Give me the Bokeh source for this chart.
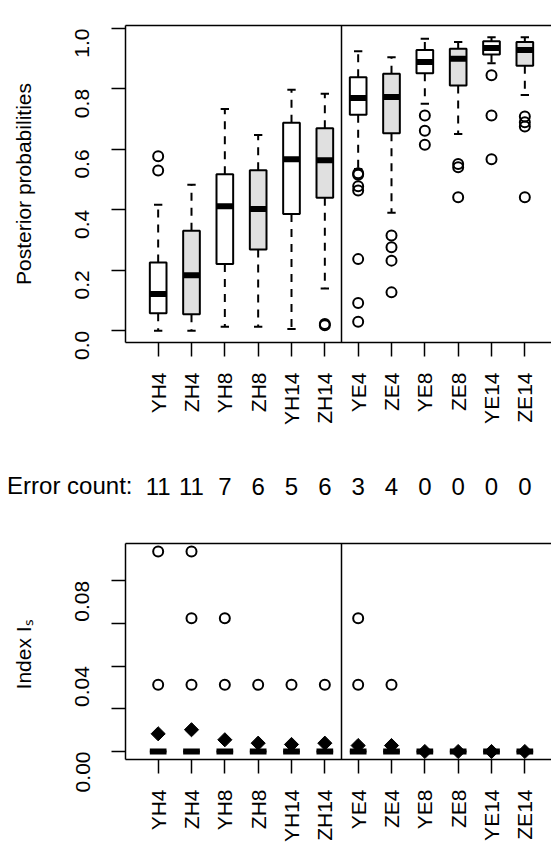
import math
from bokeh.plotting import figure
from bokeh.models import Range1d, FixedTicker, NumeralTickFormatter, Span, LinearAxis
from bokeh.layouts import column
from bokeh.embed import file_html
from bokeh.resources import INLINE
from bokeh.core.properties import value

# ---------------- data ----------------
categories = ["YH4", "ZH4", "YH8", "ZH8", "YH14", "ZH14",
              "YE4", "ZE4", "YE8", "ZE8", "YE14", "ZE14"]

# top panel: posterior probabilities (boxplot statistics)
pp_lower = [0.000, 0.000, 0.013, 0.013, 0.006, 0.140, 0.535, 0.390, 0.751, 0.651, 0.885, 0.780]
pp_q1    = [0.058, 0.055, 0.221, 0.269, 0.386, 0.440, 0.715, 0.653, 0.852, 0.811, 0.914, 0.877]
pp_med   = [0.122, 0.184, 0.412, 0.403, 0.567, 0.564, 0.770, 0.773, 0.889, 0.900, 0.935, 0.929]
pp_q3    = [0.226, 0.331, 0.518, 0.531, 0.688, 0.670, 0.839, 0.850, 0.929, 0.933, 0.958, 0.955]
pp_upper = [0.417, 0.483, 0.734, 0.648, 0.797, 0.784, 0.925, 0.905, 0.966, 0.955, 0.971, 0.971]
pp_out_cat = ["YH4", "YH4", "ZH14", "ZH14",
              "YE4", "YE4", "YE4", "YE4", "YE4", "YE4", "YE4",
              "ZE4", "ZE4", "ZE4", "ZE4",
              "YE8", "YE8", "YE8",
              "ZE8", "ZE8", "ZE8",
              "YE14", "YE14", "YE14",
              "ZE14", "ZE14", "ZE14", "ZE14"]
pp_out_val = [0.577, 0.530, 0.022, 0.018,
              0.521, 0.516, 0.478, 0.464, 0.237, 0.092, 0.030,
              0.315, 0.276, 0.232, 0.127,
              0.712, 0.662, 0.615,
              0.552, 0.541, 0.442,
              0.845, 0.712, 0.567,
              0.709, 0.690, 0.676, 0.442]
pp_ticks = [0.0, 0.2, 0.4, 0.6, 0.8, 1.0]

error_label = "Error count:"
error_count = [11, 11, 7, 6, 5, 6, 3, 4, 0, 0, 0, 0]

# bottom panel: index I_s
is_lower = [0, 0, 0, 0, 0, 0, 0, 0, 0, 0, 0, 0]
is_q1    = [0, 0, 0, 0, 0, 0, 0, 0, 0, 0, 0, 0]
is_med   = [0, 0, 0, 0, 0, 0, 0, 0, 0, 0, 0, 0]
is_q3    = [0, 0, 0, 0, 0, 0, 0, 0, 0, 0, 0, 0]
is_upper = [0, 0, 0, 0, 0, 0, 0, 0, 0, 0, 0, 0]
is_mean  = [0.0083, 0.0102, 0.0055, 0.0039, 0.0033, 0.0039, 0.0028, 0.0028, 0.0, 0.0, 0.0, 0.0]
is_out_cat = ["YH4", "YH4", "ZH4", "ZH4", "ZH4", "YH8", "YH8", "ZH8",
              "YH14", "ZH14", "YE4", "YE4", "ZE4"]
is_out_val = [0.09375, 0.03125, 0.09375, 0.0625, 0.03125, 0.0625, 0.03125, 0.03125,
              0.03125, 0.03125, 0.0625, 0.03125, 0.03125]
is_ticks = [0.00, 0.04, 0.08]
is_minor = [0.02, 0.06]

# ---------------- geometry / style ----------------
FONT = "Liberation Sans"
FS = "21px"
FS_ERR = "24px"
W = 551
LEFT = 125
UNIT = 100.0 / 3.0
X0 = 0.02
X1 = X0 + (W - LEFT) / UNIT
pos = list(range(1, len(categories) + 1))
idx = {c: i + 1 for i, c in enumerate(categories)}
fills = ["#e0e0e0" if c.startswith("Z") else "#ffffff" for c in categories]
sep = len(categories) / 2 + 0.5
BOXW = 0.5


def pad(lo, hi):
    d = (hi - lo) * 0.04
    return lo - d, hi + d


def base_fig(height, top, bottom, yr, ylabel):
    p = figure(width=W, height=height, x_range=Range1d(X0, X1), y_range=Range1d(*yr),
               output_backend="svg", toolbar_location=None,
               min_border_left=LEFT, min_border_right=0,
               min_border_top=top, min_border_bottom=bottom)
    p.outline_line_color = None
    p.xgrid.visible = False
    p.ygrid.visible = False
    p.background_fill_color = "white"
    p.border_fill_color = "white"
    for ax in list(p.xaxis) + list(p.yaxis):
        ax.axis_line_width = 1.5
        ax.axis_line_color = "black"
        ax.major_tick_line_width = 1.5
        ax.major_tick_line_color = "black"
        ax.major_tick_in = 0
        ax.major_tick_out = 14
        ax.minor_tick_line_color = None
        ax.major_label_text_font = FONT
        ax.major_label_text_font_size = FS
        ax.major_label_text_color = "black"
        ax.major_label_orientation = math.pi / 2
    p.xaxis.ticker = FixedTicker(ticks=pos)
    p.xaxis.major_label_overrides = {i: c for i, c in zip(pos, categories)}
    p.xaxis.major_label_standoff = 16
    p.yaxis.major_label_standoff = 29
    p.yaxis.axis_label = ylabel
    p.yaxis.axis_label_text_font = FONT
    p.yaxis.axis_label_text_font_size = FS
    p.yaxis.axis_label_text_font_style = "normal"
    p.yaxis.axis_label_text_color = "black"
    p.yaxis.axis_label_standoff = 31
    topax = LinearAxis(ticker=FixedTicker(ticks=[]), axis_line_width=1.5,
                       axis_line_color="black", major_tick_line_color=None,
                       minor_tick_line_color=None, major_label_text_font_size="0px")
    p.add_layout(topax, "above")
    p.add_layout(Span(location=sep, dimension="height", line_color="black", line_width=1.5))
    return p


def draw_box(p, lower, q1, med, q3, upper):
    xl = [x - BOXW / 2 for x in pos]
    xr = [x + BOXW / 2 for x in pos]
    sl = [x - BOXW / 4 for x in pos]
    sr = [x + BOXW / 4 for x in pos]
    p.segment(x0=pos, y0=q3, x1=pos, y1=upper, line_color="black", line_width=2,
              line_dash="8 7")
    p.segment(x0=pos, y0=q1, x1=pos, y1=lower, line_color="black", line_width=2,
              line_dash="8 7")
    p.segment(x0=sl, y0=upper, x1=sr, y1=upper, line_color="black", line_width=2)
    p.segment(x0=sl, y0=lower, x1=sr, y1=lower, line_color="black", line_width=2)
    p.vbar(x=pos, width=BOXW, bottom=q1, top=q3, fill_color=fills,
           line_color="black", line_width=2)
    p.segment(x0=xl, y0=med, x1=xr, y1=med, line_color="black", line_width=6,
              line_cap="butt")


# ---------------- top panel ----------------
p1 = base_fig(440, 25, 98, pad(min(pp_lower), max(pp_upper)), "Posterior probabilities")
draw_box(p1, pp_lower, pp_q1, pp_med, pp_q3, pp_upper)
p1.scatter(x=[idx[c] for c in pp_out_cat], y=pp_out_val, marker="circle", size=10,
           fill_color=None, line_color="black", line_width=2)
p1.yaxis.ticker = FixedTicker(ticks=pp_ticks)
p1.yaxis.formatter = NumeralTickFormatter(format="0.0")

# ---------------- middle: error counts ----------------
H2 = 80
BASE2 = 34          # text baseline, pixels above the bottom of this strip
LAB2 = 35           # tick carrying the "Error count:" label
p2 = figure(width=W, height=H2, x_range=Range1d(X0, X1), y_range=Range1d(0, H2),
            output_backend="svg", toolbar_location=None,
            min_border_left=LEFT, min_border_right=0, min_border_top=0, min_border_bottom=0,
            x_axis_location=None, y_axis_location="left")
p2.outline_line_color = None
p2.xgrid.visible = False
p2.ygrid.visible = False
p2.text(x=pos, y=[BASE2] * len(pos), text=[str(v) for v in error_count],
        text_font=value(FONT), text_font_size=FS_ERR, text_align="center",
        text_baseline="alphabetic", text_color="black")
ya = p2.yaxis[0]
ya.ticker = FixedTicker(ticks=[LAB2])
ya.major_label_overrides = {LAB2: error_label}
ya.axis_line_color = None
ya.major_tick_line_color = None
ya.minor_tick_line_color = None
ya.major_tick_in = 0
ya.major_tick_out = 0
ya.major_label_standoff = -7
ya.major_label_orientation = "horizontal"
ya.major_label_text_font = FONT
ya.major_label_text_font_size = FS_ERR
ya.major_label_text_color = "black"

# ---------------- bottom panel ----------------
H3 = 846 - 440 - H2
p3 = base_fig(H3, 23, 87, pad(0.0, max(is_out_val)), "Index  I\u209b")
draw_box(p3, is_lower, is_q1, is_med, is_q3, is_upper)
p3.scatter(x=[idx[c] for c in is_out_cat], y=is_out_val, marker="circle", size=10,
           fill_color=None, line_color="black", line_width=2)
p3.scatter(x=pos, y=is_mean, marker="square", angle=math.pi / 4, size=10,
           fill_color="black", line_color="black", line_width=1)
p3.yaxis.ticker = FixedTicker(ticks=is_ticks, minor_ticks=is_minor)
p3.yaxis.formatter = NumeralTickFormatter(format="0.00")
p3.yaxis.minor_tick_line_color = "black"
p3.yaxis.minor_tick_line_width = 1.5
p3.yaxis.minor_tick_in = 0
p3.yaxis.minor_tick_out = 14

layout = column(p1, p2, p3, spacing=0)
open("out.html", "w").write(file_html(layout, INLINE))
